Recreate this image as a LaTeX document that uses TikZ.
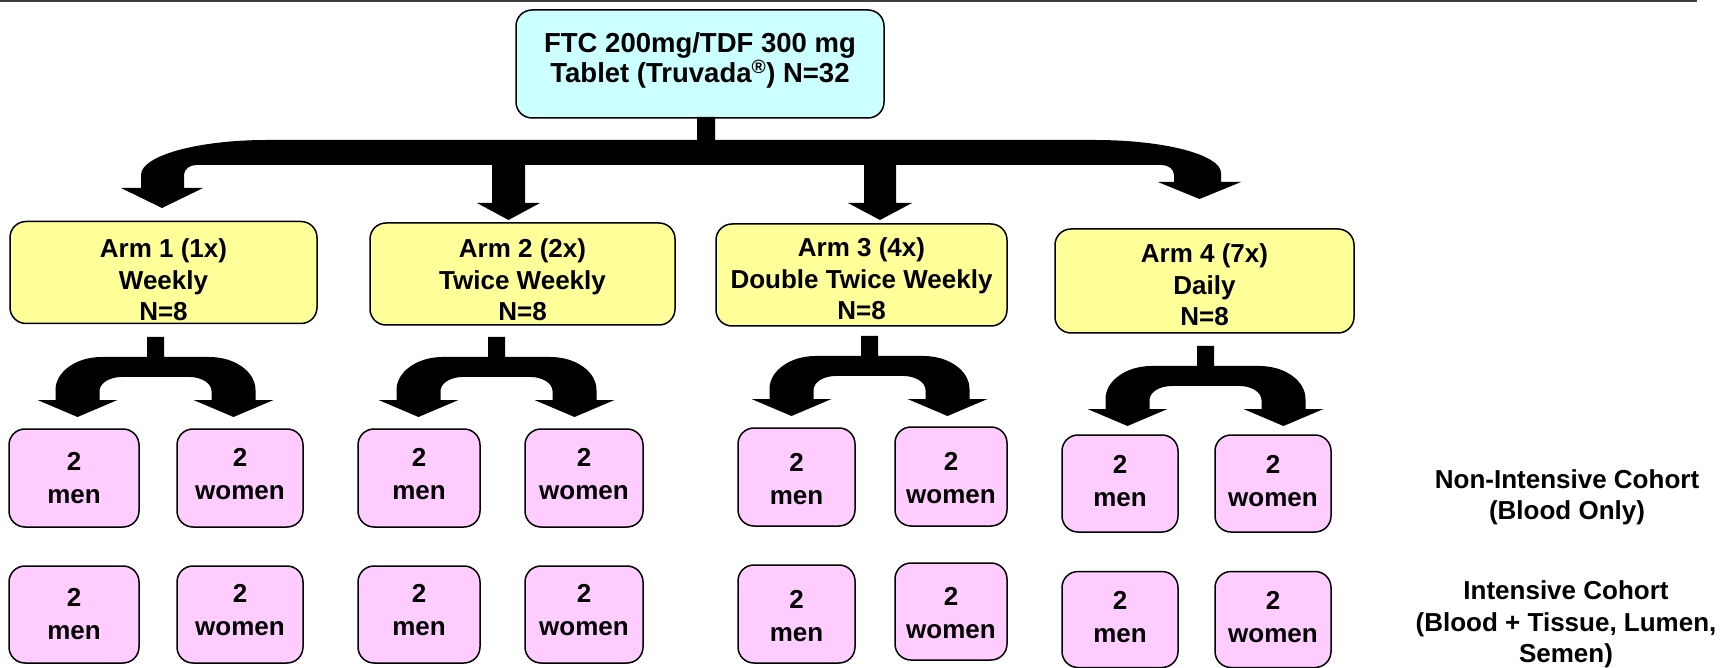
\documentclass[tikz,border=0pt]{standalone}
\usepackage{fontspec}
\setmainfont{Liberation Sans}
\definecolor{cyanfill}{HTML}{CCFFFF}
\definecolor{yellowfill}{HTML}{FFFF99}
\definecolor{pinkfill}{HTML}{FFCCFF}
\newcommand{\uarr}[2]{%
  \fill ({#1-78},{#2+80}) -- ({#1-118},{#2+63}) -- ({#1-100},{#2+63}) -- ({#1-100},{#2+53})
    .. controls ({#1-100},{#2+34.8}) and ({#1-79.4},{#2+20}) .. ({#1-54},{#2+20})
    -- ({#1-8.5},{#2+20}) -- ({#1-8.5},{#2}) -- ({#1+8.5},{#2}) -- ({#1+8.5},{#2+20})
    -- ({#1+54},{#2+20})
    .. controls ({#1+79.4},{#2+20}) and ({#1+100},{#2+34.8}) .. ({#1+100},{#2+53})
    -- ({#1+100},{#2+63}) -- ({#1+118},{#2+63}) -- ({#1+78},{#2+80}) -- ({#1+38},{#2+63})
    -- ({#1+56},{#2+63}) -- ({#1+56},{#2+54})
    .. controls ({#1+56},{#2+46.3}) and ({#1+46.1},{#2+40}) .. ({#1+34},{#2+40})
    -- ({#1-34},{#2+40})
    .. controls ({#1-46.1},{#2+40}) and ({#1-56},{#2+46.3}) .. ({#1-56},{#2+54})
    -- ({#1-56},{#2+63}) -- ({#1-38},{#2+63}) -- cycle;}
\begin{document}
\begin{tikzpicture}[x=1pt,y=-1pt,
  boxbase/.style={draw=black, line width=1.5pt, inner sep=0pt},
  topbox/.style={boxbase, fill=cyanfill, rounded corners=16pt, minimum width=368pt, minimum height=108pt},
  armbox/.style={boxbase, fill=yellowfill, rounded corners=16pt, minimum height=102pt},
  pbox/.style={boxbase, fill=pinkfill, rounded corners=16pt, minimum height=98pt},
  txt/.style={align=center, inner sep=0pt, font=\fontsize{26}{31.5}\selectfont\bfseries},
  toptxt/.style={align=center, inner sep=0pt, font=\fontsize{27.5}{30}\selectfont\bfseries},
  ptxt/.style={align=center, inner sep=0pt, font=\fontsize{26}{33}\selectfont\bfseries}]
\useasboundingbox (0,0) rectangle (1725,668);
\fill[white] (0,0) rectangle (1725,668);
% top rule
\draw[line width=2pt, black!75] (0,1.5) -- (1697,1.5);

% top box
\node[topbox] (top) at (700,64) {};
\node[toptxt] (toptext) at (700,60) {FTC 200mg/TDF 300 mg\\Tablet (Truvada\textsuperscript{®}) N=32};

% main branching arrow
\fill (697,117) -- (715,117) -- (715,140) -- (1095,140)
  .. controls (1164.6,140) and (1221,154.8) .. (1221,173)
  -- (1221,182) -- (1241,182) -- (1199.5,199) -- (1158,182) -- (1174,182) -- (1174,175)
  .. controls (1174,169.5) and (1168.6,165) .. (1162,165)
  -- (896,165) -- (896,203) -- (912,203) -- (880,220) -- (848,203) -- (864,203) -- (864,165)
  -- (525,165) -- (525,203) -- (540,203) -- (508.5,220) -- (477,203) -- (492,203) -- (492,165)
  -- (196,165) .. controls (189.4,165) and (184,169.5) .. (184,175)
  -- (184,188) -- (203,188) -- (162,208) -- (121,188) -- (141,188) -- (141,175)
  .. controls (141,155.7) and (197.4,140) .. (267,140) -- (697,140) -- cycle;

% arm boxes
\node[armbox, minimum width=307pt] (a1) at (163.5,272.5) {};
\node[txt] (a1t) at (163.5,280) {Arm 1 (1x)\\Weekly\\N=8};
\node[armbox, minimum width=305pt] (a2) at (522.5,274) {};
\node[txt] (a2t) at (522.5,280) {Arm 2 (2x)\\Twice Weekly\\N=8};
\node[armbox, minimum width=291pt] (a3) at (861.5,275) {};
\node[txt] (a3t) at (861.5,279) {Arm 3 (4x)\\Double Twice Weekly\\N=8};
\node[armbox, minimum width=299pt, minimum height=104pt] (a4) at (1204.5,281) {};
\node[txt] (a4t) at (1204.5,285) {Arm 4 (7x)\\Daily\\N=8};

% split arrows
\uarr{155.5}{337}
\uarr{496.5}{337}
\uarr{869.5}{336}
\uarr{1205.5}{346}

% pink boxes, row 1 (non-intensive)
\node[pbox, minimum width=130pt] (m1a) at (74,478) {};
\node[ptxt] at (m1a.center) {2\\men};
\node[pbox, minimum width=126pt] (w1a) at (240,478) {};
\node[ptxt] at ([yshift=4pt]w1a.center) {2\\women};
\node[pbox, minimum width=122pt] (m2a) at (419,478) {};
\node[ptxt] at ([yshift=4pt]m2a.center) {2\\men};
\node[pbox, minimum width=118pt] (w2a) at (584,478) {};
\node[ptxt] at ([yshift=4pt]w2a.center) {2\\women};
\node[pbox, minimum width=117pt] (m3a) at (796.5,477) {};
\node[ptxt] at ([yshift=-2pt]m3a.center) {2\\men};
\node[pbox, minimum width=112pt, minimum height=99pt] (w3a) at (951,476.5) {};
\node[ptxt] at ([yshift=-2pt]w3a.center) {2\\women};
\node[pbox, minimum width=116pt, minimum height=97pt] (m4a) at (1120,483.5) {};
\node[ptxt] at ([yshift=2pt]m4a.center) {2\\men};
\node[pbox, minimum width=116pt, minimum height=97pt] (w4a) at (1273,483.5) {};
\node[ptxt] at ([yshift=2pt]w4a.center) {2\\women};

% pink boxes, row 2 (intensive)
\node[pbox, minimum width=130pt, minimum height=97pt] (m1b) at (74,614.5) {};
\node[ptxt] at (m1b.center) {2\\men};
\node[pbox, minimum width=126pt, minimum height=97pt] (w1b) at (240,614.5) {};
\node[ptxt] at ([yshift=4pt]w1b.center) {2\\women};
\node[pbox, minimum width=122pt, minimum height=97pt] (m2b) at (419,614.5) {};
\node[ptxt] at ([yshift=4pt]m2b.center) {2\\men};
\node[pbox, minimum width=118pt, minimum height=97pt] (w2b) at (584,614.5) {};
\node[ptxt] at ([yshift=4pt]w2b.center) {2\\women};
\node[pbox, minimum width=117pt, minimum height=98pt] (m3b) at (796.5,614) {};
\node[ptxt] at ([yshift=-2pt]m3b.center) {2\\men};
\node[pbox, minimum width=112pt, minimum height=97pt] (w3b) at (951,611.5) {};
\node[ptxt] at ([yshift=-2pt]w3b.center) {2\\women};
\node[pbox, minimum width=116pt, minimum height=96pt] (m4b) at (1120,619.5) {};
\node[ptxt] at ([yshift=2pt]m4b.center) {2\\men};
\node[pbox, minimum width=116pt, minimum height=96pt] (w4b) at (1273,619.5) {};
\node[ptxt] at ([yshift=2pt]w4b.center) {2\\women};

% cohort labels
\node[txt] (nonint) at (1567,497.5) {Non-Intensive Cohort\\(Blood Only)};
\node[txt] (intens) at (1566,624.5) {Intensive Cohort\\(Blood + Tissue, Lumen,\\Semen)};
\end{tikzpicture}
\end{document}
